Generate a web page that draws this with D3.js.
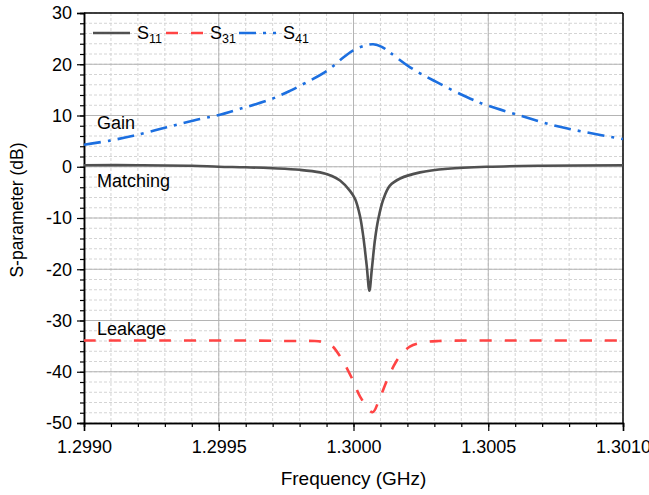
<!DOCTYPE html>
<html>
<head>
<meta charset="utf-8">
<script src="https://cdn.jsdelivr.net/npm/d3@7"></script>
<style>
  body { margin: 0; background: #fff; }
  svg { font-family: Arial, "Liberation Sans", sans-serif; }
  .minor line { stroke: #d4d4d4; stroke-dasharray: 3,2; }
  .major line { stroke: #b4b4b4; }
</style>
</head>
<body>
<div id="chart"></div>
<script>
// S11 (matching)
const s11Freq = [1.29900, 1.29920, 1.29940, 1.29950, 1.29960, 1.29970, 1.29980, 1.299876, 1.29992, 1.29995,
  1.299987, 1.300006, 1.300024, 1.300036, 1.300049, 1.300059, 1.300068, 1.300080, 1.300092, 1.300111,
  1.300135, 1.300173, 1.300247, 1.30035, 1.30050, 1.30070, 1.30100];
const s11Db = [0.3, 0.3, 0.2, 0.0, -0.1, -0.3, -0.6, -1.1, -1.8, -2.7,
  -4.7, -6.3, -9.6, -13.5, -19.3, -24.2, -20.0, -14.1, -10.2, -6.3,
  -3.7, -2.3, -1.1, -0.4, 0.0, 0.2, 0.3];

// S31 (leakage)
const s31Freq = [1.29900, 1.29930, 1.29960, 1.299763, 1.299856, 1.299886, 1.299917, 1.299955, 1.299998,
  1.300025, 1.300071, 1.300094, 1.300124, 1.300147, 1.300171, 1.300209, 1.300255, 1.300316, 1.30060, 1.30100];
const s31Db = [-33.9, -33.9, -33.9, -34.0, -34.0, -34.2, -34.8, -37.4, -41.7,
  -44.9, -47.9, -45.6, -41.7, -39.1, -37.0, -35.1, -34.3, -34.0, -33.9, -33.9];

// S41 (gain)
const s41Freq = [1.29900, 1.299096, 1.299183, 1.299307, 1.299430, 1.299501, 1.299579, 1.299690, 1.299764,
  1.299801, 1.299901, 1.299962, 1.299999, 1.300040, 1.300073, 1.300105, 1.300135, 1.300210, 1.300309,
  1.300420, 1.300494, 1.300618, 1.300741, 1.300865, 1.301000];
const s41Db = [4.3, 5.1, 6.05, 7.7, 9.3, 10.1, 11.3, 13.1, 14.8,
  15.8, 18.7, 21.3, 22.7, 23.6, 23.9, 23.4, 22.3, 19.4, 16.5,
  13.6, 12.0, 10.0, 8.1, 6.7, 5.4];

const xTicks = [1.2990, 1.2995, 1.3000, 1.3005, 1.3010];
const yTicks = [-50, -40, -30, -20, -10, 0, 10, 20, 30];

const width = 649, height = 495;
const margin = {top: 13, right: 26, bottom: 72, left: 84};
const w = width - margin.left - margin.right;
const h = height - margin.top - margin.bottom;

const svg = d3.select("#chart").append("svg")
    .attr("width", width)
    .attr("height", height);

const g = svg.append("g")
    .attr("transform", `translate(${margin.left},${margin.top})`);

const x = d3.scaleLinear().domain([1.2990, 1.3010]).range([0, w]);
const y = d3.scaleLinear().domain([-50, 30]).range([h, 0]);

const xMinor = d3.range(0, 21).map(i => 1.2990 + i * 0.0001);
const yMinor = d3.range(-50, 31, 2);

// grid: minor dashed first, major solid on top
g.append("g").attr("class", "minor")
    .selectAll("line.vx").data(xMinor).enter().append("line")
    .attr("x1", d => x(d)).attr("x2", d => x(d))
    .attr("y1", 0).attr("y2", h);
g.select(".minor")
    .selectAll("line.hy").data(yMinor).enter().append("line")
    .attr("x1", 0).attr("x2", w)
    .attr("y1", d => y(d)).attr("y2", d => y(d));

g.append("g").attr("class", "major")
    .selectAll("line.vx").data(xTicks.slice(1, -1)).enter().append("line")
    .attr("x1", d => x(d)).attr("x2", d => x(d))
    .attr("y1", 0).attr("y2", h);
g.select(".major")
    .selectAll("line.hy").data(yTicks.slice(1, -1)).enter().append("line")
    .attr("x1", 0).attr("x2", w)
    .attr("y1", d => y(d)).attr("y2", d => y(d));

// axes
const xAxis = g.append("g")
    .attr("transform", `translate(0,${h})`)
    .call(d3.axisBottom(x).tickValues(xTicks).tickFormat(d3.format(".4f")).tickSize(8).tickPadding(9));
const xAxisMinor = g.append("g")
    .attr("transform", `translate(0,${h})`)
    .call(d3.axisBottom(x).tickValues(xMinor).tickFormat("").tickSize(4));
const yAxis = g.append("g")
    .call(d3.axisLeft(y).tickValues(yTicks).tickFormat(d => String(d)).tickSize(7).tickPadding(5));
const yAxisMinor = g.append("g")
    .call(d3.axisLeft(y).tickValues(yMinor).tickFormat("").tickSize(4));

[xAxis, xAxisMinor, yAxis, yAxisMinor].forEach(a => {
    a.select(".domain").attr("stroke", "#000").attr("stroke-width", 1.5);
    a.selectAll(".tick line").attr("stroke", "#000").attr("stroke-width", 1.2);
    a.selectAll("text").attr("font-size", 18).attr("fill", "#000")
        .attr("font-family", "Arial, 'Liberation Sans', sans-serif");
});

// top and right frame
g.append("line").attr("x1", 0).attr("x2", w).attr("y1", 0).attr("y2", 0)
    .attr("stroke", "#000").attr("stroke-width", 1.5);
g.append("line").attr("x1", w).attr("x2", w).attr("y1", 0).attr("y2", h)
    .attr("stroke", "#000").attr("stroke-width", 1.5);

// curves
const series = [
    {name: "11", freq: s11Freq, db: s11Db, color: "#505050", dash: null},
    {name: "31", freq: s31Freq, db: s31Db, color: "#ff4444", dash: "12,13"},
    {name: "41", freq: s41Freq, db: s41Db, color: "#1c6fe0", dash: "17,7,3,7"}
];

const line = d3.line()
    .x(d => x(d[0]))
    .y(d => y(d[1]))
    .curve(d3.curveCatmullRom.alpha(0.5));

const plot = g.append("g");
series.forEach(s => {
    plot.append("path")
        .datum(d3.zip(s.freq, s.db))
        .attr("fill", "none")
        .attr("stroke", s.color)
        .attr("stroke-width", 2.6)
        .attr("stroke-dasharray", s.dash)
        .attr("d", line);
});

// legend
const legX = [9, 82, 155];
const legend = g.append("g").attr("transform", "translate(0,20)");
series.forEach((s, i) => {
    const lg = legend.append("g").attr("transform", `translate(${legX[i]},0)`);
    lg.append("line")
        .attr("x1", 0).attr("x2", 37).attr("y1", 0).attr("y2", 0)
        .attr("stroke", s.color).attr("stroke-width", 2.6)
        .attr("stroke-dasharray", s.dash);
    const t = lg.append("text").attr("x", 44).attr("y", 6).attr("font-size", 18);
    t.append("tspan").text("S");
    t.append("tspan").attr("font-size", 12.5).attr("dy", 4).text(s.name);
});

// annotations
const notes = [
    {text: "Gain", val: 7.3},
    {text: "Matching", val: -3.9},
    {text: "Leakage", val: -32.8}
];
g.selectAll("text.note").data(notes).enter().append("text")
    .attr("class", "note")
    .attr("x", 13)
    .attr("y", d => y(d.val))
    .attr("font-size", 18)
    .attr("fill", "#000")
    .text(d => d.text);

// axis titles
svg.append("text")
    .attr("x", margin.left + w / 2)
    .attr("y", 485)
    .attr("text-anchor", "middle")
    .attr("font-size", 19)
    .text("Frequency (GHz)");

svg.append("text")
    .attr("transform", "translate(23,210) rotate(-90)")
    .attr("text-anchor", "middle")
    .attr("font-size", 17.5)
    .text("S-parameter (dB)");
</script>
</body>
</html>
